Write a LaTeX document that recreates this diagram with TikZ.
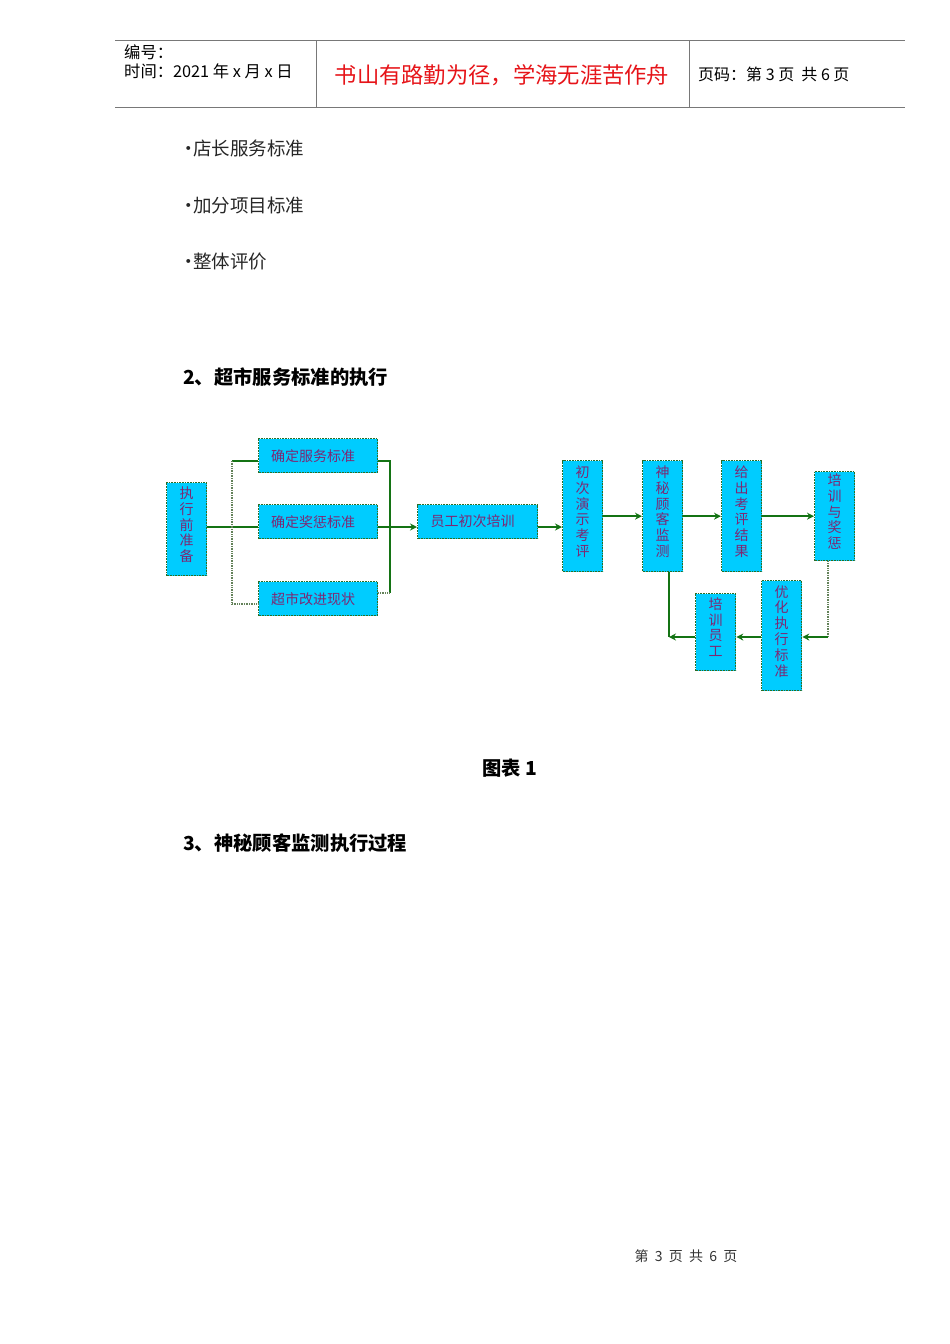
\documentclass[tikz,border=0pt]{standalone}
\usepackage{fontspec}
\setmainfont{Noto Sans CJK SC}
\usetikzlibrary{arrows.meta,calc}
\definecolor{boxfill}{RGB}{0,204,255}
\definecolor{boxtext}{RGB}{125,40,115}
\definecolor{lnk}{RGB}{20,115,20}
\definecolor{boxline}{RGB}{40,110,40}
\definecolor{lnkgray}{RGB}{100,130,90}
\definecolor{redtxt}{RGB}{230,20,25}
\definecolor{rule}{RGB}{120,120,120}
\begin{document}
\begin{tikzpicture}[x=1pt,y=-1pt,
  box/.style={draw=boxline, dash pattern=on 1pt off 0.6pt, line width=1.3pt, fill=boxfill, text=boxtext,
    align=center, inner sep=0pt, anchor=north west},
  hbox/.style={box, font=\fontsize{14}{15}\selectfont},
  vbox/.style={box, font=\fontsize{14}{15.8}\selectfont, minimum width=40, text depth=10pt},
  conn/.style={draw=lnk, line width=1.5pt},
  dconn/.style={draw=lnkgray, line width=1.5pt, dash pattern=on 1pt off 0.7pt},
  arr/.style={-{Stealth[length=7pt,width=7pt]}},
  plain/.style={inner sep=0pt, anchor=west},
  bodytext/.style={plain, font=\fontsize{18.5}{20}\selectfont, text=black!85},
  heading/.style={plain, font=\fontsize{19.3}{21}\selectfont\bfseries}]
\useasboundingbox (0,0) rectangle (950,1344);

% header
\draw[rule, line width=1pt] (115,40) -- (905,40);
\draw[rule, line width=1pt] (115,107) -- (905,107);
\draw[rule, line width=0.8pt] (316,40) -- (316,107);
\draw[rule, line width=0.8pt] (689,40) -- (689,107);
\node[plain, font=\fontsize{16.3}{18}\selectfont] (h1) at (124,52) {编号：};
\node[plain, font=\fontsize{16.3}{18}\selectfont] (h2) at (124,71) {时间：2021 年 x 月 x 日};
\node[inner sep=0pt, font=\fontsize{22.3}{24}\selectfont, text=redtxt] (h3) at (502,75) {书山有路勤为径，学海无涯苦作舟};
\node[plain, font=\fontsize{16}{18}\selectfont] (h4) at (698,74) {页码：第 3 页\ \ 共 6 页};

% bullets
\node[bodytext] (b1) at (179,148) {·\kern-4.5pt 店长服务标准};
\node[bodytext] (b2) at (179,205) {·\kern-4.5pt 加分项目标准};
\node[bodytext] (b3) at (179,262) {·\kern-4.5pt 整体评价};

\node[heading] (t2) at (183,377) {2、超市服务标准的执行};

% flowchart boxes
\node[vbox, minimum height=93] (prep) at (166,482) {执\\行\\前\\准\\备};
\node[hbox, minimum width=119, minimum height=34] (s1) at (258,438) {确定服务标准\kern10pt};
\node[hbox, minimum width=119, minimum height=34] (s2) at (258,504) {确定奖惩标准\kern10pt};
\node[hbox, minimum width=119, minimum height=34] (s3) at (258,581) {超市改进现状\kern10pt};
\node[hbox, minimum width=120, minimum height=34] (train0) at (417,504) {员工初次培训\kern10pt};
\node[vbox, minimum height=111] (eval) at (562,460) {初\\次\\演\\示\\考\\评};
\node[vbox, minimum height=111] (mystery) at (642,460) {神\\秘\\顾\\客\\监\\测};
\node[vbox, minimum height=111] (result) at (721,460) {给\\出\\考\\评\\结\\果};
\node[vbox, minimum height=89] (reward) at (814,471) {培\\训\\与\\奖\\惩};
\node[vbox, minimum height=110] (optimize) at (761,580) {优\\化\\执\\行\\标\\准};
\node[vbox, minimum height=77] (trainstaff) at (695,593) {培\\训\\员\\工};

% junction coordinates
\coordinate (jl1) at (232,461);
\coordinate (jl2) at (232,527);
\coordinate (jl3) at (232,604);
\coordinate (jr1) at (390,461);
\coordinate (jr3) at (390,593);
\coordinate (jb) at (828,637);
\coordinate (jm) at (669,637);

% left fan-out
\draw[conn] (prep.east |- jl2) -- (s2.west |- jl2);
\draw[conn] (jl1) -- (s1.west |- jl1);
\draw[dconn] (jl1) -- (jl3);
\draw[dconn] (jl3) -- (s3.west |- jl3);
% right fan-in
\draw[conn] (s1.east |- jr1) -- (jr1) -- (jr3);
\draw[dconn] (s3.east |- jr3) -- (jr3);
\draw[conn, arr] (s2.east |- jl2) -- (train0.west |- jl2);
\draw[conn, arr] (train0.east |- jl2) -- (eval.west |- jl2);
% main row
\draw[conn, arr] (eval.east) -- (mystery.west);
\draw[conn, arr] (mystery.east) -- (result.west);
\draw[conn, arr] (result.east) -- (reward.west);
% return loop
\draw[dconn] (reward.south -| jb) -- (jb);
\draw[conn, arr] (jb) -- (optimize.east |- jb);
\draw[conn, arr] (optimize.west |- jb) -- (trainstaff.east |- jb);
\draw[conn] (mystery.south -| jm) -- (jm);
\draw[conn, arr] (trainstaff.west |- jb) -- (jm);

% caption and next heading
\node[inner sep=0pt, font=\fontsize{19.3}{21}\selectfont\bfseries] (cap) at (510,768) {图表 1};
\node[heading] (t3) at (183,843) {3、神秘顾客监测执行过程};

% footer
\node[inner sep=0pt, font=\fontsize{14}{15}\selectfont, text=black!80] (foot) at (686,1256) {第\ \ 3\ \ 页\ \ 共\ \ 6\ \ 页};
\end{tikzpicture}
\end{document}
